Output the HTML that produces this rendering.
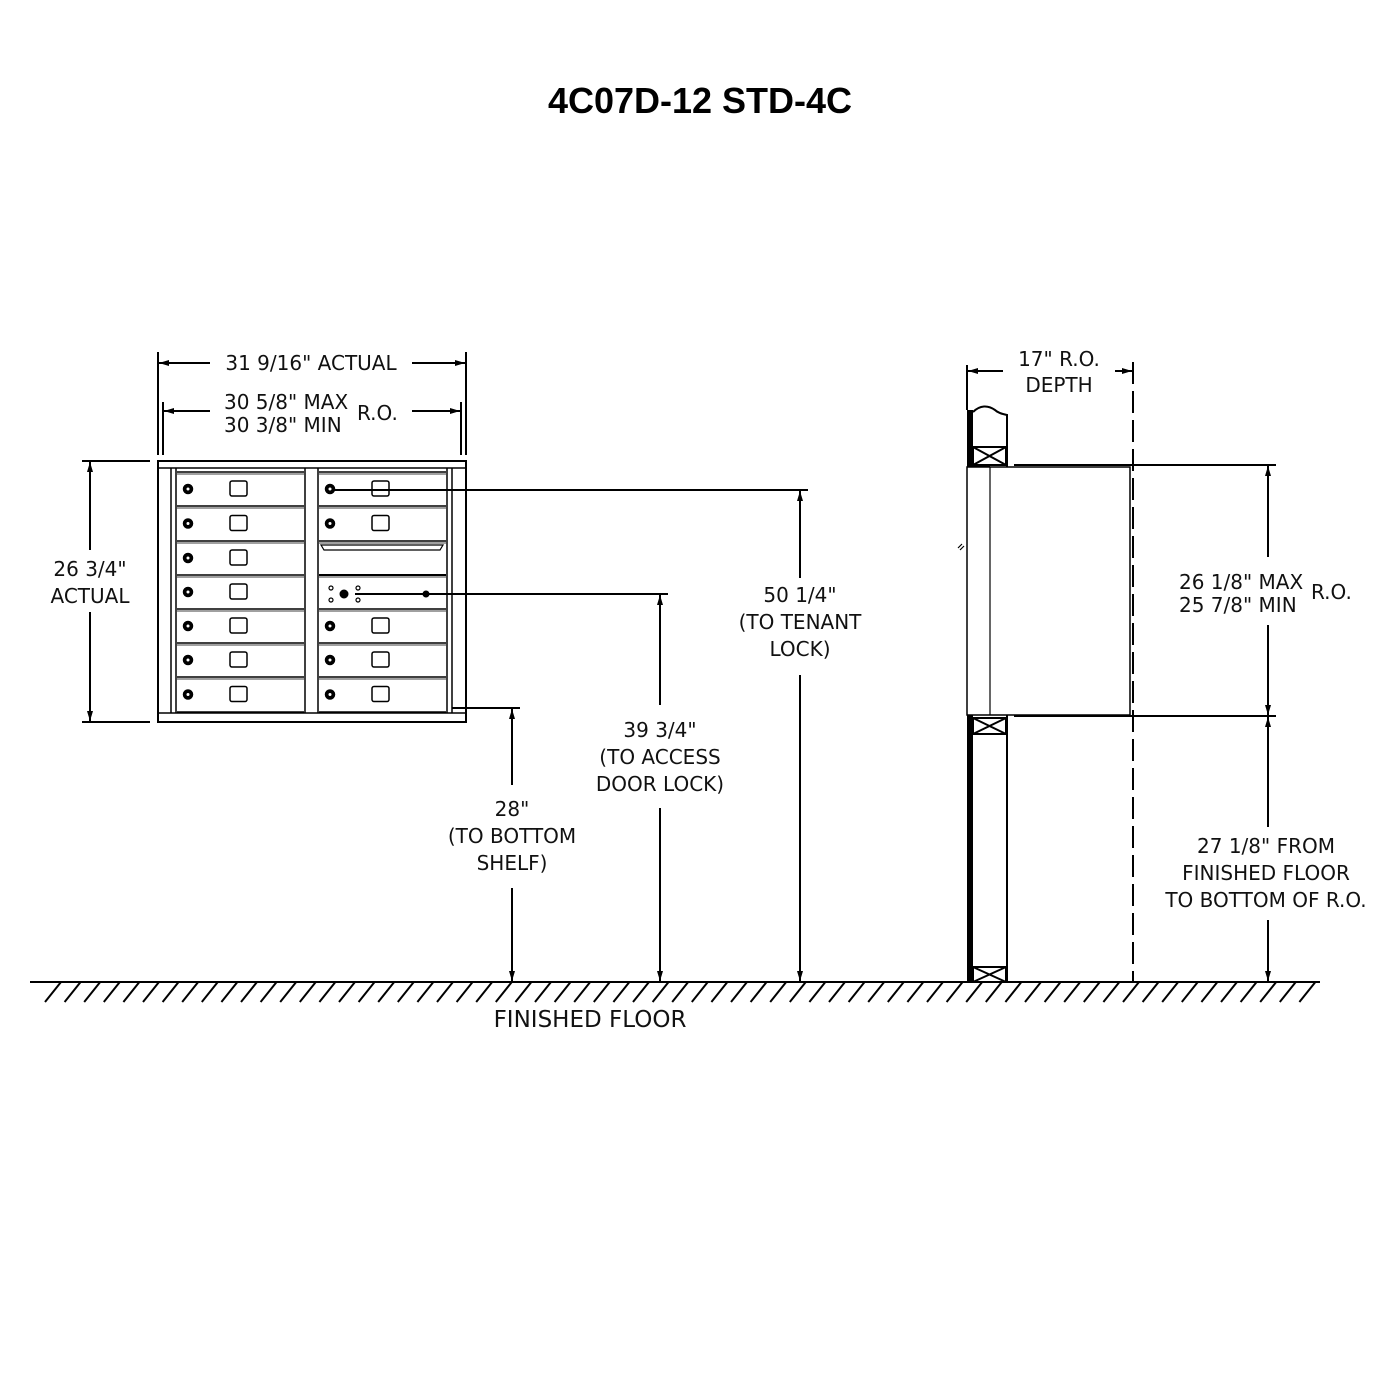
<!DOCTYPE html>
<html><head><meta charset="utf-8"><style>
html,body{margin:0;padding:0;background:#fff;}
svg{display:block}
text{font-family:"DejaVu Sans","Liberation Sans",sans-serif;font-size:20px;fill:#111;}
</style></head><body>
<svg id="s" width="1400" height="1400" viewBox="0 0 1400 1400" xmlns="http://www.w3.org/2000/svg">
<defs>
<marker id="a" viewBox="0 0 10 6" refX="10" refY="3" markerWidth="10" markerHeight="6" orient="auto" markerUnits="userSpaceOnUse"><path d="M0,0L10,3L0,6z" fill="#000"/></marker>
</defs>
<text x="700" y="113" text-anchor="middle" style="font-family:'Liberation Sans',sans-serif;font-weight:bold;font-size:36px;fill:#000">4C07D-12 STD-4C</text>

<g stroke="#000" stroke-width="2" fill="none">
<line x1="158" y1="352" x2="158" y2="455"/><line x1="466" y1="352" x2="466" y2="455"/>
<line x1="163" y1="402" x2="163" y2="455"/><line x1="461" y1="402" x2="461" y2="455"/>
<line x1="210" y1="363" x2="159" y2="363" marker-end="url(#a)"/>
<line x1="412" y1="363" x2="465" y2="363" marker-end="url(#a)"/>
<line x1="210" y1="411" x2="164" y2="411" marker-end="url(#a)"/>
<line x1="412" y1="411" x2="460" y2="411" marker-end="url(#a)"/>
<line x1="82" y1="461" x2="150" y2="461"/><line x1="82" y1="722" x2="150" y2="722"/>
<line x1="90" y1="550" x2="90" y2="462" marker-end="url(#a)"/>
<line x1="90" y1="612" x2="90" y2="721" marker-end="url(#a)"/>
<rect x="158" y="461" width="308" height="261" stroke-width="2"/>
<line x1="158" y1="468" x2="466" y2="468" stroke-width="1.5"/>
<line x1="158" y1="713" x2="466" y2="713" stroke-width="1.5"/>
<line x1="171" y1="468" x2="171" y2="713" stroke-width="1.5"/>
<line x1="176" y1="468" x2="176" y2="713" stroke-width="1.5"/>
<line x1="447" y1="468" x2="447" y2="713" stroke-width="1.5"/>
<line x1="452" y1="468" x2="452" y2="713" stroke-width="1.5"/>
<line x1="305" y1="468" x2="305" y2="713" stroke-width="1.5"/>
<line x1="318" y1="468" x2="318" y2="713" stroke-width="1.5"/>
<g id="doors" stroke-width="1.5"></g>
<path d="M321,545 L443,545 L440,550 L324,550 Z" stroke-width="1.2"/>
<circle cx="331" cy="588" r="2" stroke-width="1.2"/><circle cx="331" cy="600" r="2" stroke-width="1.2"/>
<circle cx="358" cy="588" r="2" stroke-width="1.2"/><circle cx="358" cy="600" r="2" stroke-width="1.2"/>
<circle cx="344" cy="594" r="3.5" fill="#000"/>
<circle cx="426" cy="594" r="2.5" fill="#000"/>
<line x1="334" y1="490" x2="808" y2="490"/>
<line x1="355" y1="594" x2="668" y2="594"/>
<line x1="452" y1="708" x2="520" y2="708"/>
<line x1="800" y1="578" x2="800" y2="491" marker-end="url(#a)"/>
<line x1="800" y1="675" x2="800" y2="981" marker-end="url(#a)"/>
<line x1="660" y1="705" x2="660" y2="595" marker-end="url(#a)"/>
<line x1="660" y1="808" x2="660" y2="981" marker-end="url(#a)"/>
<line x1="512" y1="785" x2="512" y2="709" marker-end="url(#a)"/>
<line x1="512" y1="888" x2="512" y2="981" marker-end="url(#a)"/>
<line x1="30" y1="982" x2="1320" y2="982"/>
<g id="hatch" stroke-width="2"></g>
<line x1="967" y1="365" x2="967" y2="410"/>
<line x1="1003" y1="371" x2="968" y2="371" marker-end="url(#a)"/>
<line x1="1115" y1="371" x2="1132" y2="371" marker-end="url(#a)"/>
<line x1="1133" y1="362" x2="1133" y2="982" stroke-dasharray="22,7" stroke-width="2"/>
<rect x="967" y="410" width="6" height="572" fill="#000" stroke="none"/>
<path d="M973,412 C980,405 988,405 995,410 C998,413 1002,414 1007,415 L1007,982" />
<line x1="967" y1="466" x2="990" y2="466"/>
<rect x="973" y="447" width="33" height="18"/><path d="M973,447L1006,465M1006,447L973,465"/>
<rect x="973" y="718" width="33" height="16"/><path d="M973,718L1006,734M1006,718L973,734"/>
<rect x="973" y="967" width="33" height="15"/><path d="M973,967L1006,982M1006,967L973,982"/>
<rect x="967" y="467" width="163" height="248" stroke-width="1.5" fill="#fff"/>
<line x1="990" y1="467" x2="990" y2="715" stroke-width="1.2"/>
<path d="M958,548l4,-4M960,550l4,-4" stroke-width="1.2"/>
<line x1="1014" y1="465" x2="1276" y2="465"/>
<line x1="1014" y1="716" x2="1276" y2="716"/>
<line x1="1268" y1="557" x2="1268" y2="466" marker-end="url(#a)"/>
<line x1="1268" y1="625" x2="1268" y2="715" marker-end="url(#a)"/>
<line x1="1268" y1="827" x2="1268" y2="717" marker-end="url(#a)"/>
<line x1="1268" y1="920" x2="1268" y2="981" marker-end="url(#a)"/>
</g>

<text x="311" y="370" text-anchor="middle">31 9/16" ACTUAL</text>
<text x="224" y="409">30 5/8" MAX</text>
<text x="224" y="432">30 3/8" MIN</text>
<text x="357" y="420">R.O.</text>
<text x="90" y="576" text-anchor="middle">26 3/4"</text>
<text x="90" y="603" text-anchor="middle">ACTUAL</text>
<text x="800" y="602" text-anchor="middle">50 1/4"</text>
<text x="800" y="629" text-anchor="middle">(TO TENANT</text>
<text x="800" y="656" text-anchor="middle">LOCK)</text>
<text x="660" y="737" text-anchor="middle">39 3/4"</text>
<text x="660" y="764" text-anchor="middle">(TO ACCESS</text>
<text x="660" y="791" text-anchor="middle">DOOR LOCK)</text>
<text x="512" y="816" text-anchor="middle">28"</text>
<text x="512" y="843" text-anchor="middle">(TO BOTTOM</text>
<text x="512" y="870" text-anchor="middle">SHELF)</text>
<text x="590" y="1027" text-anchor="middle" style="font-size:23px">FINISHED FLOOR</text>
<text x="1059" y="366" text-anchor="middle">17"  R.O.</text>
<text x="1059" y="392" text-anchor="middle">DEPTH</text>
<text x="1179" y="589">26 1/8" MAX</text>
<text x="1179" y="612">25 7/8" MIN</text>
<text x="1311" y="599">R.O.</text>
<text x="1266" y="853" text-anchor="middle">27 1/8"  FROM</text>
<text x="1266" y="880" text-anchor="middle">FINISHED FLOOR</text>
<text x="1266" y="907" text-anchor="middle">TO BOTTOM OF R.O.</text>
</svg>
<script>
var NS="http://www.w3.org/2000/svg";
function el(p,t,a){var e=document.createElementNS(NS,t);for(var k in a)e.setAttribute(k,a[k]);p.appendChild(e);return e;}
var h=document.getElementById("hatch");
for(var x=45;x<1305;x+=19.6){el(h,"line",{x1:x,y1:1002,x2:x+16,y2:982});}
var d=document.getElementById("doors");
var ys=[472,506,541,575,609,643,677,712];
for(var c=0;c<2;c++){
 var x0=c?319:177,x1=c?446:304;
 for(var i=0;i<7;i++){
  var y0=ys[i],y1=ys[i+1];
  el(d,"line",{x1:x0,y1:y0,x2:x1,y2:y0});
  el(d,"line",{x1:x0,y1:y0+2,x2:x1,y2:y0+2,"stroke-width":0.8});
  if(c==1&&(i==2||i==3))continue;
  var cy=(y0+y1)/2;
  el(d,"circle",{cx:x0+11,cy:cy,r:4.5,fill:"#000"});
  el(d,"circle",{cx:x0+11,cy:cy,r:1.5,fill:"#fff",stroke:"none"});
  el(d,"rect",{x:x0+53,y:cy-8,width:17,height:15,rx:2});
 }
 el(d,"line",{x1:x0,y1:712,x2:x1,y2:712});
}
el(d,"line",{x1:319,y1:575,x2:446,y2:575,"stroke-width":2});
</script>
</body></html>
